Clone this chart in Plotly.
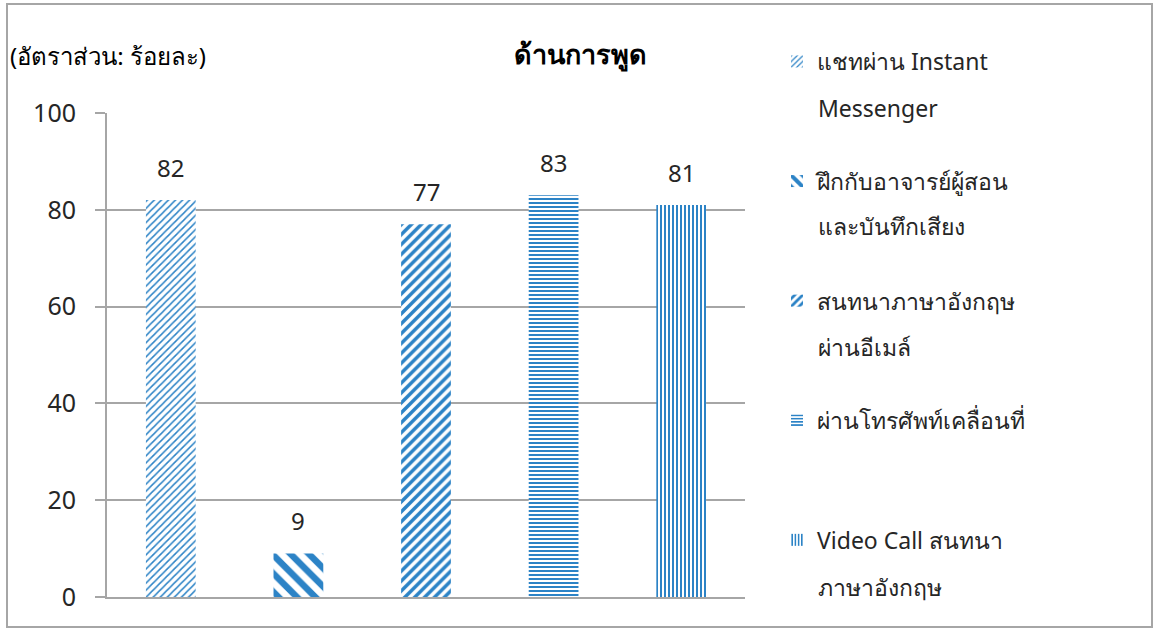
import plotly.graph_objects as go

# ---- data ----
series_names = [
    "แชทผ่าน Instant",
    "ฝึกกับอาจารย์ผู้สอน",
    "สนทนาภาษาอังกฤษ",
    "ผ่านโทรศัพท์เคลื่อนที่",
    "Video Call สนทนา",
]
series_names_line2 = ["Messenger", "และบันทึกเสียง", "ผ่านอีเมล์", "", "ภาษาอังกฤษ"]
categories = ["c1", "c2", "c3", "c4", "c5"]
values = [82, 9, 77, 83, 81]
y_ticks = [0, 20, 40, 60, 80, 100]
title_text = "ด้านการพูด"
y_title_text = "(อัตราส่วน: ร้อยละ)"

# ---- styles ----
BLUE = "#2C83C6"
GRID = "#A6A6A6"
TXT = "#262626"
FONT = "Noto Sans, Liberation Sans, sans-serif"
patterns = [
    dict(shape="/", size=5, solidity=0.3),
    dict(shape="\\", size=13, solidity=0.5),
    dict(shape="/", size=7, solidity=0.5),
    dict(shape="-", size=4, solidity=0.5),
    dict(shape="|", size=4, solidity=0.5),
]

fig = go.Figure()
for i, (name, cat, val) in enumerate(zip(series_names, categories, values)):
    p = patterns[i]
    fig.add_trace(go.Bar(
        x=[cat], y=[val], name=name, legendgroup=f"g{i}",
        width=0.39,
        marker=dict(color="white", line=dict(width=0),
                    pattern=dict(shape=p["shape"], size=p["size"], solidity=p["solidity"],
                                 fgcolor=BLUE, bgcolor="white", fgopacity=1,
                                 fillmode="overlay")),
    ))

L, R, T, B = 107, 415, 113, 33
PW, PH = 1160 - L - R, 630 - T - B

def px(x):
    return (x - L) / PW

def py(y):
    return (630 - B - y) / PH

annotations = [dict(text=y_title_text, xref="paper", yref="paper",
                    x=px(8), y=py(55), xanchor="left", yanchor="middle",
                    showarrow=False, font=dict(size=24, color="#000000", family=FONT))]

# data labels above bars
for cat, val in zip(categories, values):
    annotations.append(dict(text=str(val), x=cat, y=val, xref="x", yref="y",
                            xanchor="center", yanchor="bottom", yshift=14,
                            showarrow=False, font=dict(size=24, color=TXT, family=FONT)))

# legend continuation lines (first-line centres in px from top)
legend_rows = [62, 180, 301, 423, 541]
for row, txt in zip(legend_rows, series_names_line2):
    if txt:
        annotations.append(dict(text=txt, xref="paper", yref="paper",
                                x=px(816), y=py(row + 46), xanchor="left", yanchor="middle",
                                showarrow=False, font=dict(size=23, color=TXT, family=FONT)))

fig.update_layout(
    width=1160, height=630,
    margin=dict(l=L, r=R, t=T, b=B),
    paper_bgcolor="white", plot_bgcolor="white",
    barmode="overlay",
    font=dict(family=FONT, size=24, color=TXT),
    title=dict(text=f"<b>{title_text}</b>", xref="container", yref="container",
               x=580 / 1160, y=1 - 55 / 630, xanchor="center", yanchor="middle",
               font=dict(size=27, color="#000000", family=FONT)),
    showlegend=True,
    legend=dict(x=px(777), y=py(40), xanchor="left", yanchor="top",
                valign="middle", tracegroupgap=86.7, traceorder="grouped",
                maxheight=620,
                font=dict(size=23, color=TXT, family=FONT),
                bgcolor="rgba(0,0,0,0)"),
    xaxis=dict(categoryorder="array", categoryarray=categories,
               showticklabels=False, showgrid=False, ticks="",
               showline=True, linecolor=GRID, linewidth=2,
               range=[-0.5, 4.5], zeroline=False),
    yaxis=dict(range=[0, 100], tickvals=y_ticks, showgrid=True, gridcolor=GRID, gridwidth=1.5,
               showline=True, linecolor=GRID, linewidth=2,
               ticks="outside", ticklen=10, tickcolor=GRID, tickwidth=2,
               ticklabelstandoff=14, zeroline=False,
               tickfont=dict(size=25, color=TXT, family=FONT)),
    annotations=annotations,
    shapes=[dict(type="rect", xref="paper", yref="paper",
                 x0=px(7), x1=px(1152), y0=py(627), y1=py(4),
                 line=dict(color=GRID, width=2), fillcolor="rgba(0,0,0,0)", layer="below")],
)

fig.write_html("out.html", config={"displayModeBar": False},
               post_script="document.body.style.margin='0';")
